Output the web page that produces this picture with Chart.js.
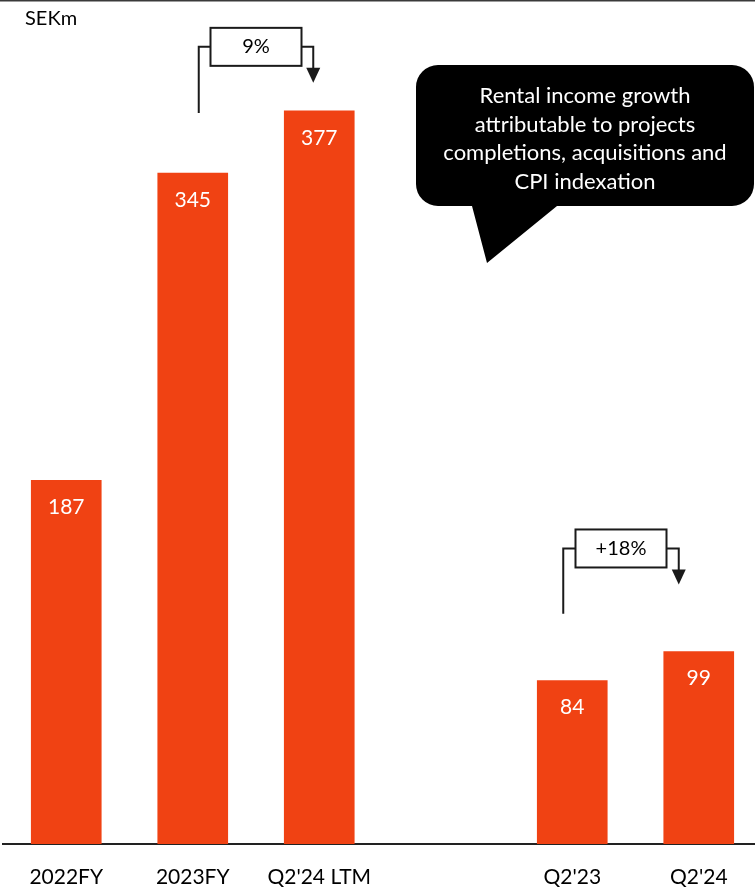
<!DOCTYPE html>
<html>
<head>
<meta charset="utf-8">
<script src="https://cdn.jsdelivr.net/npm/chart.js@4"></script>
<style>
  html, body { margin: 0; padding: 0; background: #fff; overflow: hidden; }
  #wrap { width: 762px; height: 894px; }
</style>
</head>
<body>
<div id="wrap"><canvas id="rentalChart" width="762" height="894"></canvas></div>
<script>
// ---- data ----
const periods = ["2022FY", "2023FY", "Q2'24 LTM", "", "Q2'23", "Q2'24"];
const rentalIncome = [187, 345, 377, null, 84, 99];
const growthPairs = [[1, 2], [4, 5]];
const growthLabels = ["9%", "+18%"];
const unitLabel = "SEKm";
const calloutLines = [
    "Rental income growth",
    "attributable to projects",
    "completions, acquisitions and",
    "CPI indexation"
];

const FONT = "Lato, 'Open Sans', sans-serif";
const BAR_COLOR = "#F04213";
const INK = "#1a1a1a";

// growth brackets: offsets in px from the bar centres / bar tops
const bracketLayout = [
    { leftDx: 6, rightDx: -6, rise: 64, leftGap: 60, tipGap: 28 },
    { leftDx: -9, rightDx: -20, rise: 103, leftGap: 67, tipGap: 67 }
];

// ---- overlay: frame line, unit, value labels, growth brackets, callout ----
const overlay = {
    id: "overlay",
    afterDatasetsDraw(chart) {
        const ctx = chart.ctx;
        const bars = chart.getDatasetMeta(0).data;
        ctx.save();

        // top rule
        ctx.fillStyle = "#3a3a3a";
        ctx.fillRect(0, 0, chart.width, 1.5);

        // unit
        ctx.fillStyle = "#000";
        ctx.font = "20px " + FONT;
        ctx.textAlign = "left";
        ctx.textBaseline = "middle";
        ctx.fillText(unitLabel, 25, 19);

        // values inside bars
        ctx.fillStyle = "#fff";
        ctx.textAlign = "center";
        ctx.font = "21px " + FONT;
        rentalIncome.forEach((v, i) => {
            if (v === null) return;
            ctx.fillText(String(v), bars[i].x, bars[i].y + 27);
        });

        // growth brackets
        ctx.strokeStyle = INK;
        ctx.lineWidth = 2;
        ctx.font = "20px " + FONT;
        growthPairs.forEach(([a, b], k) => {
            const L = bracketLayout[k];
            const xl = bars[a].x + L.leftDx;
            const xr = bars[b].x + L.rightDx;
            const level = Math.min(bars[a].y, bars[b].y) - L.rise;
            const leftEnd = bars[a].y - L.leftGap;
            const tip = bars[b].y - L.tipGap;
            const cx = (xl + xr) / 2;
            const bw = 91, bh = 38;

            ctx.beginPath();
            ctx.moveTo(xl, leftEnd);
            ctx.lineTo(xl, level);
            ctx.lineTo(cx - bw / 2, level);
            ctx.moveTo(cx + bw / 2, level);
            ctx.lineTo(xr, level);
            ctx.lineTo(xr, tip - 14);
            ctx.stroke();

            ctx.fillStyle = INK;
            ctx.beginPath();
            ctx.moveTo(xr - 7, tip - 15);
            ctx.lineTo(xr + 7, tip - 15);
            ctx.lineTo(xr, tip);
            ctx.closePath();
            ctx.fill();

            ctx.fillStyle = "#fff";
            ctx.fillRect(cx - bw / 2, level - bh / 2, bw, bh);
            ctx.strokeRect(cx - bw / 2, level - bh / 2, bw, bh);
            ctx.fillStyle = "#000";
            ctx.fillText(growthLabels[k], cx, level);
        });

        // speech bubble
        const bx = 416, by = 65, bW = 338, bH = 141, r = 22;
        ctx.fillStyle = "#000";
        ctx.beginPath();
        ctx.moveTo(bx + r, by);
        ctx.arcTo(bx + bW, by, bx + bW, by + bH, r);
        ctx.arcTo(bx + bW, by + bH, bx, by + bH, r);
        ctx.lineTo(557, by + bH);
        ctx.lineTo(487, 263);
        ctx.lineTo(472, by + bH);
        ctx.arcTo(bx, by + bH, bx, by, r);
        ctx.arcTo(bx, by, bx + bW, by, r);
        ctx.closePath();
        ctx.fill();

        ctx.fillStyle = "#fff";
        ctx.font = "22px " + FONT;
        calloutLines.forEach((t, i) => {
            ctx.fillText(t, bx + bW / 2, 96 + i * 28.5);
        });

        ctx.restore();
    }
};

function draw() {
    const ctx = document.getElementById("rentalChart").getContext("2d");
    new Chart(ctx, {
        type: "bar",
        data: {
            labels: periods,
            datasets: [{
                data: rentalIncome,
                backgroundColor: BAR_COLOR,
                barThickness: 70
            }]
        },
        options: {
            responsive: false,
            animation: false,
            layout: { padding: { left: 3, right: 0, top: 0, bottom: 0 } },
            scales: {
                x: {
                    grid: { display: false, drawTicks: false },
                    border: { display: true, color: "#222", width: 2 },
                    ticks: {
                        color: "#000",
                        font: { family: FONT, size: 21 },
                        padding: 21,
                        maxRotation: 0,
                        autoSkip: false
                    },
                    afterFit(axis) { axis.height = 50; }
                },
                y: {
                    display: false,
                    min: 0,
                    max: 434
                }
            },
            plugins: {
                legend: { display: false },
                tooltip: { enabled: false }
            }
        },
        plugins: [overlay]
    });
}

document.fonts.load("20px Lato").then(draw, draw);
</script>
</body>
</html>
